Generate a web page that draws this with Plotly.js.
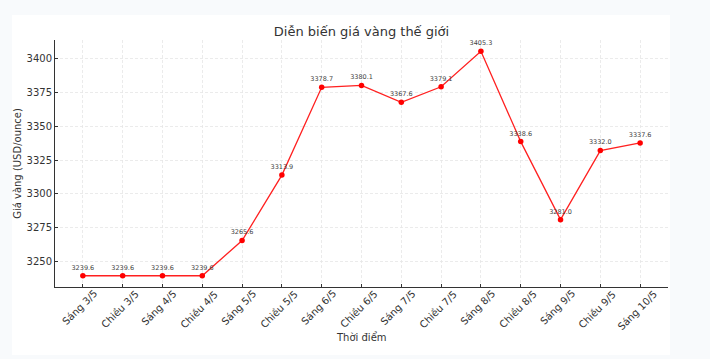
<!DOCTYPE html>
<html>
<head>
<meta charset="utf-8">
<script src="https://cdn.plot.ly/plotly-3.0.1.min.js"></script>
<style>
  html, body { margin:0; padding:0; background:#f8fafc; width:710px; height:359px; overflow:hidden; }
  #chart { position:absolute; left:12px; top:15px; width:658px; height:340px; background:#fff; }
</style>
</head>
<body>
<div id="chart"></div>
<script>
const categories = ["Sáng 3/5","Chiều 3/5","Sáng 4/5","Chiều 4/5","Sáng 5/5","Chiều 5/5","Sáng 6/5","Chiều 6/5","Sáng 7/5","Chiều 7/5","Sáng 8/5","Chiều 8/5","Sáng 9/5","Chiều 9/5","Sáng 10/5"];
const prices = [3239.6,3239.6,3239.6,3239.6,3265.6,3313.9,3378.7,3380.1,3367.6,3379.1,3405.3,3338.6,3281.0,3332.0,3337.6];
const yTicks = [3250,3275,3300,3325,3350,3375,3400];

const xs = categories.map((c,i)=>i);

const trace = {
  x: xs,
  y: prices,
  mode: 'lines+markers+text',
  text: prices.map(v=>v.toFixed(1)),
  textposition: 'top center',
  textfont: {family:'DejaVu Sans', size:6.5, color:'#444'},
  line: {color:'#ff2020', width:1.3},
  marker: {color:'#ff0000', size:5.5},
  cliponaxis: false,
  hoverinfo: 'none'
};

const tickAnnotations = categories.map((c,i)=>({
  text: c, x: i, xref:'x', y: 0, yref:'paper',
  xanchor:'center', yanchor:'top', yshift:0, xshift:-3,
  textangle:-45, showarrow:false, borderpad:0,
  font:{family:'DejaVu Sans', size:10, color:'#333'}
}));

const layout = {
  width: 658, height: 340,
  margin: {l:43, r:2, t:25, b:68},
  paper_bgcolor: '#ffffff',
  plot_bgcolor: '#ffffff',
  font: {family:'DejaVu Sans', color:'#333'},
  showlegend: false,
  title: {text:'Diễn biến giá vàng thế giới', font:{size:13, color:'#333'}, x:0.5, xref:'paper', xanchor:'center', y:1-16/340, yref:'container', yanchor:'middle'},
  xaxis: {
    range: [-0.7, 14.7],
    tickmode: 'array',
    tickvals: xs,
    showticklabels: false,
    ticks: 'inside', ticklen: 3, tickcolor:'#333',
    showline: true, linecolor:'#333', linewidth:1,
    showgrid: true, gridcolor:'#e6e6e6', gridwidth:0.8, griddash:'3px,2px',
    zeroline: false
  },
  yaxis: {
    range: [3231.3, 3413.6],
    tickmode: 'array',
    tickvals: yTicks,
    tickfont: {size:10, color:'#333'},
    ticks: 'inside', ticklen: 3, tickcolor:'#333',
    showline: true, linecolor:'#333', linewidth:1,
    showgrid: true, gridcolor:'#e6e6e6', gridwidth:0.8, griddash:'3px,2px',
    zeroline: false,
    title: {text:'Giá vàng (USD/ounce)', font:{size:10, color:'#333'}, standoff: 4}
  },
  annotations: tickAnnotations.concat([{
    text:'Thời điểm', x:0.5, xref:'paper', y:(272-322)/247, yref:'paper',
    xanchor:'center', yanchor:'middle', showarrow:false,
    font:{family:'DejaVu Sans', size:10, color:'#333'}
  }])
};

Plotly.newPlot('chart', [trace], layout, {staticPlot:true, displayModeBar:false});
</script>
</body>
</html>
